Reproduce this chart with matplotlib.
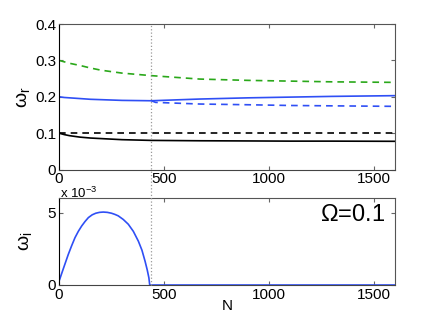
import numpy as np
import matplotlib
matplotlib.use('Agg')
import matplotlib.pyplot as plt
from matplotlib.lines import Line2D

plt.rcParams['font.family'] = ['Liberation Sans', 'DejaVu Sans']
plt.rcParams['mathtext.fontset'] = 'custom'
plt.rcParams['mathtext.rm'] = 'Liberation Sans'
plt.rcParams['mathtext.it'] = 'Liberation Sans'

############################################################
# Data
N_top = [0, 25, 50, 100, 150, 200, 300, 440, 670, 900, 1100, 1300, 1600]
green_dash = [0.300, 0.296, 0.292, 0.286, 0.279, 0.273, 0.265, 0.258, 0.2486, 0.245, 0.243, 0.241, 0.2395]
blue_solid = [0.200, 0.198, 0.197, 0.195, 0.193, 0.192, 0.190, 0.189, 0.1937, 0.197, 0.199, 0.201, 0.203]
black_solid = [0.100, 0.096, 0.093, 0.089, 0.0865, 0.085, 0.082, 0.080, 0.079, 0.0785, 0.078, 0.078, 0.0775]
black_dash = [0.100] * len(N_top)

N_branch = [440, 460, 670, 900, 1100, 1300, 1600]
blue_dash = [0.189, 0.1845, 0.180, 0.178, 0.176, 0.175, 0.1736]

N_bot = [0, 20, 44, 60, 76, 92, 108, 124, 140, 158, 175, 193, 211, 230, 250, 266,
         282, 306, 330, 354, 378, 395, 410, 420, 428, 432, 440, 1000, 1600]
omega_i = [0.25, 1.1, 2.1, 2.7, 3.26, 3.7, 4.07, 4.38, 4.65, 4.84, 4.95, 5.01, 5.03, 5.01, 4.95, 4.87,
           4.77, 4.52, 4.19, 3.7, 3.02, 2.4, 1.63, 1.05, 0.5, 0.0, 0.0, 0.0, 0.0]

N_crit = 438

blue = '#2f4ff5'
green = '#2aa81a'

fig = plt.figure(figsize=(4.36, 3.18), dpi=100)
W, H = 436.0, 318.0
ax1 = fig.add_axes([59/W, 1-169.5/H, 336/W, 145.5/H])
ax2 = fig.add_axes([59/W, 1-285/H, 336/W, 87/H])

############################################################
# Top panel: real part
ax1.plot(N_top, green_dash, '--', color=green, lw=1.2, dashes=(4, 3))
ax1.plot(N_top, blue_solid, '-', color=blue, lw=1.2)
ax1.plot(N_branch, blue_dash, '--', color=blue, lw=1.2, dashes=(4, 3))
ax1.plot(N_top, black_dash, '--', color='black', lw=1.2, dashes=(4, 3))
ax1.plot(N_top, black_solid, '-', color='black', lw=1.2)
ax1.set_xlim(0, 1600)
ax1.set_ylim(0, 0.4)
ax1.set_yticks([0, 0.1, 0.2, 0.3, 0.4])
ax1.set_yticklabels(['0', '0.1', '0.2', '0.3', '0.4'])
ax1.set_xticks([0, 500, 1000, 1500])
ax1.set_ylabel(r'$\omega_r$', fontsize=14, labelpad=2)

############################################################
# Bottom panel: imaginary part
ax2.plot(N_bot, omega_i, '-', color=blue, lw=1.2)
ax2.set_xlim(0, 1600)
ax2.set_ylim(0, 6)
ax2.set_yticks([0, 5])
ax2.set_xticks([0, 500, 1000, 1500])
ax2.set_ylabel(r'$\omega_i$', fontsize=14, labelpad=10)
ax2.set_xlabel('N', fontsize=11, labelpad=-2)
ax2.text(0.97, 0.93, r'$\Omega$=0.1', transform=ax2.transAxes, ha='right', va='top', fontsize=17)
fig.text(60/W, 1-197.5/H, r'x 10$^{-3}$', fontsize=9.5, ha='left', va='baseline')

for ax in (ax1, ax2):
    ax.tick_params(direction='in', top=True, right=True, length=3, labelsize=11, pad=2, color='#666666')
    for s in ax.spines.values():
        s.set_color('#555555')
        s.set_linewidth(0.8)
    ax.spines['left'].set_color('black')
    ax.spines['bottom'].set_color('#444444')

# dotted marker line across both panels
xf = 59/W + N_crit/1600*336/W
fig.add_artist(Line2D([xf, xf], [1-285/H, 1-24/H], transform=fig.transFigure,
                      color='#999999', lw=0.9, ls=':'))

fig.savefig('out.png', dpi=100)
